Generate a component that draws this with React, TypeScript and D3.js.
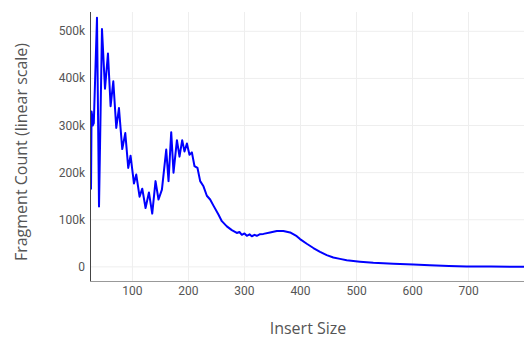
import React, { useEffect, useRef } from "react";
import * as d3 from "d3";

const insertSizes = [26, 27, 28, 29, 31, 36.7, 40.3, 45.6, 51, 56.3, 61, 65.8, 71.1, 75.9, 81.8, 87.2, 92.5, 96.6, 102.7, 106.8, 112.7, 117.5, 123.4, 129.4, 135.3, 141.2, 146.5, 152.6, 160.3, 164.4, 169.2, 173.3, 179.4, 184, 188.8, 192.9, 197.2, 201.8, 206.1, 210.7, 216.1, 220.9, 226.8, 232.8, 238.7, 244.6, 253.5, 259.6, 268.5, 277.4, 286.3, 291, 295.3, 300, 304.2, 309, 313.1, 318, 322, 327, 333.8, 345.7, 357.7, 369.4, 381.4, 393.3, 399.2, 411.2, 423, 434.9, 446.8, 458.6, 470.5, 482.5, 506.2, 530, 565.6, 601.3, 631, 665, 696.5, 740, 799];
const fragmentCounts = [164000, 330000, 322000, 300000, 305000, 529000, 128000, 505000, 378000, 453000, 341000, 394000, 295000, 337000, 250000, 284000, 210000, 236000, 177000, 196000, 149000, 166000, 125000, 158000, 113000, 182000, 143000, 164000, 249000, 182000, 286000, 200000, 269000, 234000, 269000, 245000, 262000, 238000, 243000, 214000, 210000, 182000, 171000, 151000, 143000, 130000, 111000, 97000, 86000, 78000, 72000, 74000, 68000, 71000, 66000, 69000, 65000, 68000, 66000, 69000, 70000, 73000, 76000, 76000, 73000, 65000, 59000, 49000, 40000, 32000, 25000, 20000, 17000, 14000, 11000, 8500, 6400, 5000, 3500, 2000, 1000, 600, 300];
const xTicks = [100, 200, 300, 400, 500, 600, 700];
const yTicks = [0, 100000, 200000, 300000, 400000, 500000];

export default function App() {
  const ref = useRef<SVGSVGElement>(null);
  useEffect(() => {
    const svg = d3.select(ref.current);
    svg.selectAll("*").remove();
    const x = d3.scaleLinear().domain([26, 799]).range([91, 524]);
    const y = d3.scaleLinear().domain([-30000, 541000]).range([281, 12]);
    const font = "Roboto, 'Noto Sans', sans-serif";
    const titleFont = "'Open Sans', 'Noto Sans', sans-serif";

    const grid = svg.append("g");
    xTicks.forEach((t) => {
      grid.append("line").attr("x1", x(t)).attr("x2", x(t)).attr("y1", 12).attr("y2", 281)
        .attr("stroke", "#eeeeee").attr("stroke-width", 1);
    });
    yTicks.forEach((t) => {
      grid.append("line").attr("x1", 91).attr("x2", 524).attr("y1", y(t)).attr("y2", y(t))
        .attr("stroke", "#eeeeee").attr("stroke-width", 1);
    });

    const data = insertSizes.map((v, i) => [v, fragmentCounts[i]] as [number, number]);
    const line = d3.line<[number, number]>().x((d) => x(d[0])).y((d) => y(d[1]));
    svg.append("path").datum(data).attr("d", line).attr("fill", "none")
      .attr("stroke", "#0000ff").attr("stroke-width", 2).attr("stroke-linejoin", "round");

    svg.append("line").attr("x1", 90.5).attr("x2", 90.5).attr("y1", 12).attr("y2", 281.5)
      .attr("stroke", "#444").attr("stroke-width", 1);
    svg.append("line").attr("x1", 90).attr("x2", 524).attr("y1", 281.5).attr("y2", 281.5)
      .attr("stroke", "#999").attr("stroke-width", 1);

    xTicks.forEach((t) => {
      svg.append("text").attr("x", x(t)).attr("y", 295).attr("text-anchor", "middle")
        .attr("font-family", font).attr("font-size", 12).attr("fill", "#555").text(String(t));
    });
    yTicks.forEach((t) => {
      svg.append("text").attr("x", 85).attr("y", y(t) + 4).attr("text-anchor", "end")
        .attr("font-family", font).attr("font-size", 12).attr("fill", "#555")
        .text(t === 0 ? "0" : `${t / 1000}k`);
    });

    svg.append("text").attr("x", 308).attr("y", 334).attr("text-anchor", "middle")
      .attr("font-family", titleFont).attr("font-size", 16).attr("fill", "#555").text("Insert Size");
    svg.append("text").attr("transform", "translate(27,152) rotate(-90)").attr("text-anchor", "middle")
      .attr("font-family", titleFont).attr("font-size", 16).attr("fill", "#555").text("Fragment Count (linear scale)");
  }, []);
  return (
    <div style={{ position: "absolute", left: 0, top: 0 }}>
      <svg ref={ref} width={524} height={339} style={{ display: "block", background: "#fff" }} />
    </div>
  );
}
